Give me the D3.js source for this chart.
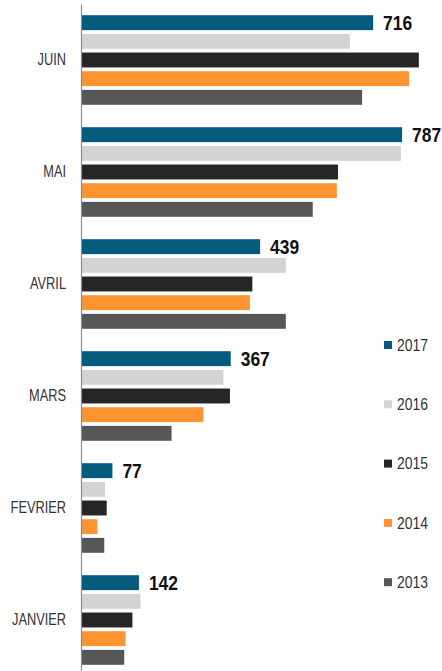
<!DOCTYPE html>
<html>
<head>
<meta charset="utf-8">
<script src="https://cdn.jsdelivr.net/npm/d3@7"></script>
<style>
    body { margin: 0; background: #fff; }
    svg { display: block; font-family: "Liberation Sans", Arial, sans-serif; }
</style>
</head>
<body>
<div id="viz"></div>
<script>
const months = ['JUIN', 'MAI', 'AVRIL', 'MARS', 'FEVRIER', 'JANVIER']
const years = ['2017', '2016', '2015', '2014', '2013']
const colors = ['#045b7e', '#d3d3d3', '#262626', '#fe9431', '#575757']

// values per year, in months order
const v2017 = [716, 787, 439, 367, 77, 142]
const v2016 = [659, 784, 502, 349, 59, 146]
const v2015 = [828, 630, 420, 365, 63, 126]
const v2014 = [804, 627, 414, 300, 40, 109]
const v2013 = [689, 568, 502, 222, 57, 106]

const series = [v2017, v2016, v2015, v2014, v2013]

const data = months.map((m, i) => ({
    month: m,
    values: years.map((y, j) => ({ year: y, value: series[j][i] }))
}))

// squeeze text horizontally, the original font is a narrow one
narrow = (sel, sx) => {
    sel.each(function() {
        const t = d3.select(this)
        const x0 = +t.attr('x') || 0
        t.attr('x', x0 / sx)
            .attr('transform', `scale(${sx}, 1)`)
    })
}

render = (data) => {
    const w = 442, h = 671

    const svg = d3.select('#viz')
        .append('svg')
        .attr('width', w)
        .attr('height', h)

    const x = d3.scaleLinear()
        .domain([0, 880])
        .range([81, 81 + 880 * 0.408])

    const y = d3.scaleBand()
        .domain(months)
        .range([4, 676])
        .paddingInner(0.2)
        .paddingOuter(0.1)

    const yIn = d3.scaleBand()
        .domain(years)
        .range([0, y.bandwidth()])
        .paddingInner(0.2)

    const color = d3.scaleOrdinal()
        .domain(years)
        .range(colors)

    const groups = svg.selectAll('.grp')
        .data(data)
        .enter()
        .append('g')
        .attr('class', 'grp')
        .attr('transform', d => `translate(0, ${y(d.month)})`)

    groups.selectAll('rect')
        .data(d => d.values)
        .enter()
        .append('rect')
        .attr('x', x(0))
        .attr('y', d => yIn(d.year))
        .attr('width', d => x(d.value) - x(0))
        .attr('height', yIn.bandwidth())
        .attr('fill', d => color(d.year))

    // value labels only for 2017
    const vals = groups.append('text')
        .attr('x', d => x(d.values[0].value) + 10)
        .attr('y', yIn('2017') + yIn.bandwidth() / 2)
        .attr('dy', '0.36em')
        .attr('font-size', 21)
        .attr('font-weight', 'bold')
        .attr('fill', '#111')
        .text(d => d.values[0].value)
    narrow(vals, 0.83)

    const yAxis = d3.axisLeft(y)
        .tickSize(0)
        .tickSizeOuter(0)
        .tickPadding(15)

    const yAxisG = svg.append('g')
        .attr('transform', `translate(${x(0)}, 0)`)
        .call(yAxis)
        .attr('font-family', null)
    yAxisG.select('.domain')
        .attr('stroke', '#8c8c8c')
        .attr('stroke-width', 1.2)
    const ticks = yAxisG.selectAll('text')
        .attr('font-size', 16)
        .attr('fill', '#333')
    narrow(ticks, 0.8)

    // legend
    const leg = svg.append('g')
        .attr('transform', 'translate(384, 345)')
    const li = leg.selectAll('g')
        .data(years)
        .enter()
        .append('g')
        .attr('transform', (d, i) => `translate(0, ${i * 59.3})`)
    li.append('rect')
        .attr('x', 0)
        .attr('y', -4)
        .attr('width', 8)
        .attr('height', 8)
        .attr('fill', d => color(d))
    const legText = li.append('text')
        .attr('x', 13)
        .attr('dy', '0.36em')
        .attr('font-size', 16)
        .attr('fill', '#333')
        .text(d => d)
    narrow(legText, 0.87)
}

render(data)
</script>
</body>
</html>
